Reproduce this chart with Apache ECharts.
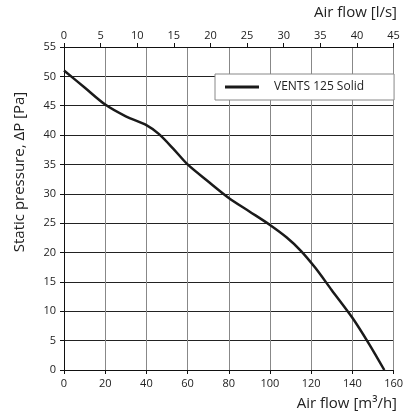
<!DOCTYPE html>
<html>
<head>
<meta charset="utf-8">
<script src="https://cdn.jsdelivr.net/npm/echarts@6/dist/echarts.min.js"></script>
<style>html,body{margin:0;padding:0;background:#fff}#c{width:406px;height:419px}</style>
</head>
<body>
<div id="c"></div>
<script>
var seriesName = 'VENTS 125 Solid';
var airflowM3h = [0, 10, 20, 30, 40, 46, 53, 60, 70, 80, 90, 100, 108, 115, 122, 130, 140, 148, 155.5];
var pressurePa = [51, 48.1, 45.2, 43.2, 41.7, 40.2, 37.7, 35, 32.1, 29.3, 27, 24.7, 22.6, 20.3, 17.4, 13.6, 8.9, 4.5, 0];
var bottomTicks = [0, 160, 20];
var topTicks = [0, 45, 5];
var yTicks = [0, 55, 5];

var font = '"Open Sans", "Noto Sans", sans-serif';
var chart = echarts.init(document.getElementById('c'));
chart.setOption({
  animation: false,
  grid: {left: 64, right: 9, top: 47, bottom: 49},
  legend: {
    left: 215, top: 74,
    data: [seriesName],
    icon: 'rect', itemWidth: 34, itemHeight: 3, itemGap: 0,
    backgroundColor: '#fff', borderColor: '#888', borderWidth: 1,
    padding: [7, 30, 7, 10],
    textStyle: {fontFamily: font, fontSize: 12, color: '#222', padding: [0, 0, 0, 10]}
  },
  xAxis: [{
    type: 'value', position: 'bottom',
    min: bottomTicks[0], max: bottomTicks[1], interval: bottomTicks[2],
    axisLine: {lineStyle: {color: '#111', width: 1}},
    axisTick: {show: true, length: 4, lineStyle: {color: '#111'}},
    axisLabel: {fontFamily: font, fontSize: 11, color: '#222', margin: 8},
    splitLine: {show: true, lineStyle: {color: '#888', width: 1}}
  }, {
    type: 'value', position: 'top',
    min: topTicks[0], max: topTicks[1], interval: topTicks[2],
    axisLine: {lineStyle: {color: '#111', width: 1}},
    axisTick: {show: true, length: 4, lineStyle: {color: '#111'}},
    axisLabel: {fontFamily: font, fontSize: 11, color: '#222', margin: 6},
    splitLine: {show: false}
  }],
  yAxis: {
    type: 'value',
    min: yTicks[0], max: yTicks[1], interval: yTicks[2],
    axisLine: {show: true, lineStyle: {color: '#111', width: 1}},
    axisTick: {show: true, length: 4, lineStyle: {color: '#111'}},
    axisLabel: {fontFamily: font, fontSize: 11, color: '#222', margin: 8},
    splitLine: {show: true, lineStyle: {color: '#222', width: 1}}
  },
  graphic: [
    {type: 'text', right: 9, top: 5, style: {text: 'Air flow [l/s]', font: '15px ' + font, fill: '#222'}},
    {type: 'text', right: 9, top: 396, style: {text: 'Air flow [m³/h]', font: '15px ' + font, fill: '#222'}},
    {type: 'text', x: 20, y: 172, rotation: Math.PI / 2,
     style: {text: 'Static pressure, ΔP [Pa]', font: '15px ' + font, fill: '#222', align: 'center', verticalAlign: 'middle'}}
  ],
  series: [{
    name: seriesName, type: 'line', xAxisIndex: 0,
    data: airflowM3h.map(function (v, i) { return [v, pressurePa[i]]; }),
    symbol: 'none', smooth: 0.3,
    lineStyle: {color: '#1a1a1a', width: 2.5},
    itemStyle: {color: '#1a1a1a'}
  }]
});
</script>
</body>
</html>
